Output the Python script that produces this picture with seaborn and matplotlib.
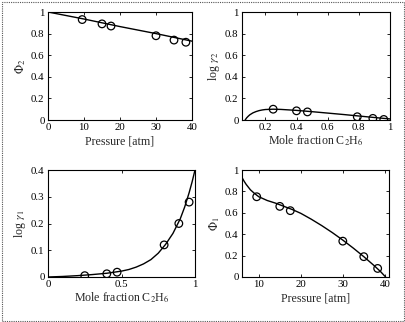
import matplotlib
matplotlib.use("Agg")
import matplotlib.pyplot as plt
import seaborn as sns
from matplotlib.patches import Rectangle

# ---- data ----
# top-left: Phi_2 vs pressure
p_pts = [9.5, 15.0, 17.5, 30.0, 35.0, 38.3]
phi2_pts = [0.93, 0.89, 0.87, 0.78, 0.74, 0.72]
p_line2 = [0, 10, 20, 30, 40]
phi2_line = [1.0, 0.935, 0.865, 0.80, 0.73]

# top-right: log gamma_2 vs mole fraction
x_pts = [0.25, 0.40, 0.47, 0.79, 0.89, 0.96]
lg2_pts = [0.10, 0.085, 0.075, 0.03, 0.015, 0.005]
x_line2 = [0.07, 0.08, 0.09, 0.10, 0.12, 0.14, 0.16, 0.18, 0.20, 0.25, 0.30, 0.40, 0.50, 0.60, 0.70, 0.80, 0.90, 1.00]
lg2_line = [0.0, 0.02, 0.035, 0.048, 0.066, 0.078, 0.087, 0.093, 0.097, 0.100, 0.098, 0.089, 0.077, 0.064, 0.051, 0.037, 0.023, 0.01]

# bottom-left: log gamma_1 vs mole fraction
lg1_pts = [0.005, 0.012, 0.018, 0.12, 0.20, 0.28]
x_line1 = [0.0, 0.1, 0.2, 0.3, 0.4, 0.5, 0.55, 0.6, 0.65, 0.7, 0.75, 0.8, 0.85, 0.9, 0.93, 0.96, 0.98, 1.0]
lg1_line = [0.0, 0.002, 0.005, 0.009, 0.014, 0.022, 0.028, 0.037, 0.049, 0.065, 0.089, 0.122, 0.163, 0.218, 0.262, 0.315, 0.355, 0.40]

# bottom-right: Phi_1 vs pressure
phi1_pts = [0.75, 0.66, 0.62, 0.335, 0.19, 0.08]
p_line1 = [6.0, 6.5, 7.0, 7.5, 8.0, 9.0, 10.0, 12.0, 14.0, 16.0, 18.0, 20.0, 22.5, 25.0, 27.5, 30.0, 32.5, 35.0, 37.5, 39.0, 40.2]
phi1_line = [0.93, 0.895, 0.865, 0.84, 0.815, 0.78, 0.75, 0.715, 0.69, 0.66, 0.63, 0.595, 0.54, 0.48, 0.415, 0.345, 0.27, 0.19, 0.105, 0.05, 0.0]

# ---- style ----
sns.set_style("ticks")
plt.rcParams["font.family"] = ["Liberation Serif", "DejaVu Serif"]
plt.rcParams["mathtext.fontset"] = "stix"
plt.rcParams["xtick.direction"] = "in"
plt.rcParams["ytick.direction"] = "in"

W, H = 405, 322
fig = plt.figure(figsize=(W / 100, H / 100), dpi=100)
fig.patch.set_facecolor("white")

def ax_at(l, t, r, b):
    return fig.add_axes([l / W, 1 - b / H, (r - l) / W, (b - t) / H])

ax1 = ax_at(48, 12, 192, 120)
ax2 = ax_at(242, 12, 390, 120)
ax3 = ax_at(48, 170, 195, 277)
ax4 = ax_at(242, 170, 389, 277)

fs = 7.8
lfs = 8.6

def draw(ax, xl, yl, xp, yp):
    sns.lineplot(x=xl, y=yl, ax=ax, color="k", lw=1.0, sort=False, estimator=None)
    sns.scatterplot(x=xp, y=yp, ax=ax, marker="o", s=30, facecolor="none",
                    edgecolor="k", linewidth=0.9, zorder=3)
    for s in ax.spines.values():
        s.set_linewidth(0.8)
        s.set_color("k")
    ax.tick_params(axis="both", which="both", labelsize=fs, length=2, width=0.6,
                   top=True, right=True, pad=2.5, colors="k")

draw(ax1, p_line2, phi2_line, p_pts, phi2_pts)
ax1.set_xlim(0, 40)
ax1.set_ylim(0, 1)
ax1.set_xticks([0, 10, 20, 30, 40])
ax1.set_yticks([0, 0.2, 0.4, 0.6, 0.8, 1])
ax1.set_yticklabels(["0", "0.2", "0.4", "0.6", "0.8", "1"])
ax1.set_xlabel("Pressure [atm]", fontsize=lfs, labelpad=2)
ax1.set_ylabel(r"$\Phi_2$", fontsize=lfs, labelpad=2)

draw(ax2, x_line2, lg2_line, x_pts, lg2_pts)
ax2.set_xlim(0.05, 1)
ax2.set_ylim(0, 1)
ax2.set_xticks([0.2, 0.4, 0.6, 0.8, 1])
ax2.set_xticklabels(["0.2", "0.4", "0.6", "0.8", "1"])
ax2.set_yticks([0, 0.2, 0.4, 0.6, 0.8, 1])
ax2.set_yticklabels(["0", "0.2", "0.4", "0.6", "0.8", "1"])
ax2.set_xlabel(r"Mole fraction C$_2$H$_6$", fontsize=lfs, labelpad=1)
ax2.set_ylabel(r"log $\gamma_2$", fontsize=lfs, labelpad=2)

draw(ax3, x_line1, lg1_line, x_pts, lg1_pts)
ax3.set_xlim(0, 1)
ax3.set_ylim(0, 0.4)
ax3.set_xticks([0, 0.5, 1])
ax3.set_xticklabels(["0", "0.5", "1"])
ax3.set_yticks([0, 0.1, 0.2, 0.3, 0.4])
ax3.set_yticklabels(["0", "0.1", "0.2", "0.3", "0.4"])
ax3.set_xlabel(r"Mole fraction C$_2$H$_6$", fontsize=lfs, labelpad=1)
ax3.set_ylabel(r"log $\gamma_1$", fontsize=lfs, labelpad=2)

draw(ax4, p_line1, phi1_line, p_pts, phi1_pts)
ax4.set_xlim(6, 41)
ax4.set_ylim(0, 1)
ax4.set_xticks([10, 20, 30, 40])
ax4.set_yticks([0, 0.2, 0.4, 0.6, 0.8, 1])
ax4.set_yticklabels(["0", "0.2", "0.4", "0.6", "0.8", "1"])
ax4.set_xlabel("Pressure [atm]", fontsize=lfs, labelpad=2)
ax4.set_ylabel(r"$\Phi_1$", fontsize=lfs, labelpad=2)

# dotted frame around the figure
fig.patches.append(Rectangle((1.5 / W, 1.5 / H), (W - 3) / W, (H - 3) / H,
                             transform=fig.transFigure, fill=False,
                             edgecolor="#555555", linestyle=(0, (1, 1)), lw=0.8))

fig.savefig("out.png", dpi=100, facecolor="white")
